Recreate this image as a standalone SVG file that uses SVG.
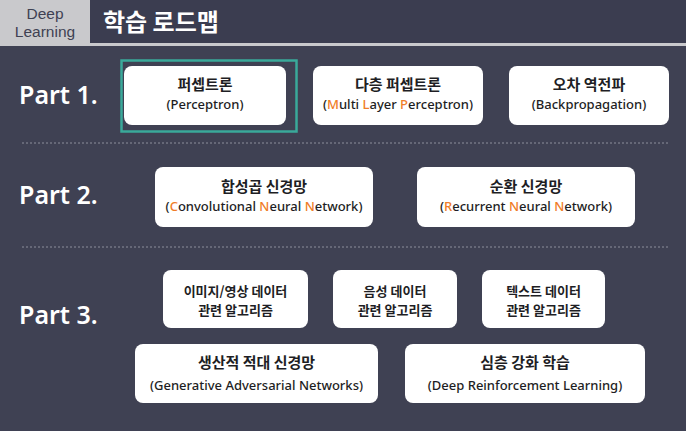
<svg xmlns="http://www.w3.org/2000/svg" width="686" height="431" viewBox="0 0 686 431">
<defs>
<style>
.bg{fill:#3f4153}
.box{fill:#ffffff}
.t{font-family:"Noto Sans CJK KR","Noto Sans",sans-serif;font-weight:700;font-size:15px;fill:#1e1e24;text-anchor:middle}
.s{font-family:"Noto Sans","Noto Sans CJK KR",sans-serif;font-weight:500;font-size:13px;fill:#1e1e24;text-anchor:middle}
.t2{font-family:"Noto Sans CJK KR","Noto Sans",sans-serif;font-weight:700;font-size:13px;fill:#1e1e24;text-anchor:middle}
.o{fill:#f07d28}
.part{font-family:"Noto Sans","Noto Sans CJK KR",sans-serif;font-weight:600;font-size:25px;fill:#ffffff}
.sep{stroke:#8d8f9c;stroke-width:1;stroke-dasharray:2 2}
</style>
</defs>
<rect class="bg" x="0" y="0" width="686" height="431"/>
<rect x="0" y="0" width="686" height="43" fill="#3b3d50"/>
<rect x="0" y="43" width="686" height="3" fill="#c9c9cc"/>
<rect x="0" y="0" width="90" height="43" fill="#c9c9cc"/>
<g id="header">
<text font-family="Liberation Sans, Arial, sans-serif" font-size="15.5" fill="#3f4153" text-anchor="middle"><tspan x="45" y="19">Deep</tspan><tspan x="45" y="37">Learning</tspan></text>
<text x="103" y="31" font-family="Noto Sans CJK KR, sans-serif" font-weight="700" font-size="24" fill="#ffffff">학습 로드맵</text>
</g>
<g id="parts">
<text class="part" x="19" y="104">Part 1.</text>
<text class="part" x="19" y="204">Part 2.</text>
<text class="part" x="19" y="324">Part 3.</text>
</g>
<g id="separators">
<line class="sep" x1="22" y1="143" x2="670" y2="143"/>
<line class="sep" x1="22" y1="247" x2="670" y2="247"/>
</g>
<g id="perceptron">
<rect x="121.5" y="60.5" width="175" height="71" fill="none" stroke="#3aa99a" stroke-width="2.5"/>
<rect class="box" x="124" y="66" width="162" height="59" rx="8"/>
<text class="t" x="205" y="90">퍼셉트론</text>
<text class="s" x="205" y="109">(Perceptron)</text>
</g>
<g id="mlp">
<rect class="box" x="313" y="66" width="170" height="59" rx="8"/>
<text class="t" x="398" y="90">다층 퍼셉트론</text>
<text class="s" x="398" y="109">(<tspan class="o">M</tspan>ulti <tspan class="o">L</tspan>ayer <tspan class="o">P</tspan>erceptron)</text>
</g>
<g id="backprop">
<rect class="box" x="509" y="66" width="160" height="59" rx="8"/>
<text class="t" x="589" y="90">오차 역전파</text>
<text class="s" x="589" y="109">(Backpropagation)</text>
</g>
<g id="cnn">
<rect class="box" x="155" y="167" width="218" height="60" rx="8"/>
<text class="t" x="264" y="192">합성곱 신경망</text>
<text class="s" x="264" y="211">(<tspan class="o">C</tspan>onvolutional <tspan class="o">N</tspan>eural <tspan class="o">N</tspan>etwork)</text>
</g>
<g id="rnn">
<rect class="box" x="417" y="167" width="218" height="60" rx="8"/>
<text class="t" x="526" y="192">순환 신경망</text>
<text class="s" x="526" y="211">(<tspan class="o">R</tspan>ecurrent <tspan class="o">N</tspan>eural <tspan class="o">N</tspan>etwork)</text>
</g>
<g id="image-algo">
<rect class="box" x="163" y="270" width="145" height="58" rx="8"/>
<text class="t2"><tspan x="235.5" y="296">이미지/영상 데이터</tspan><tspan x="235.5" y="315">관련 알고리즘</tspan></text>
</g>
<g id="speech-algo">
<rect class="box" x="333" y="270" width="124" height="58" rx="8"/>
<text class="t2"><tspan x="395" y="296">음성 데이터</tspan><tspan x="395" y="315">관련 알고리즘</tspan></text>
</g>
<g id="text-algo">
<rect class="box" x="482" y="270" width="123" height="58" rx="8"/>
<text class="t2"><tspan x="543.5" y="296">텍스트 데이터</tspan><tspan x="543.5" y="315">관련 알고리즘</tspan></text>
</g>
<g id="gan">
<rect class="box" x="135" y="344" width="243" height="59" rx="8"/>
<text class="t" x="256.5" y="368">생산적 적대 신경망</text>
<text class="s" x="256.5" y="390">(Generative Adversarial Networks)</text>
</g>
<g id="drl">
<rect class="box" x="405" y="344" width="240" height="59" rx="8"/>
<text class="t" x="525" y="368">심층 강화 학습</text>
<text class="s" x="525" y="390">(Deep Reinforcement Learning)</text>
</g>
<g id="connectors"></g>
</svg>
